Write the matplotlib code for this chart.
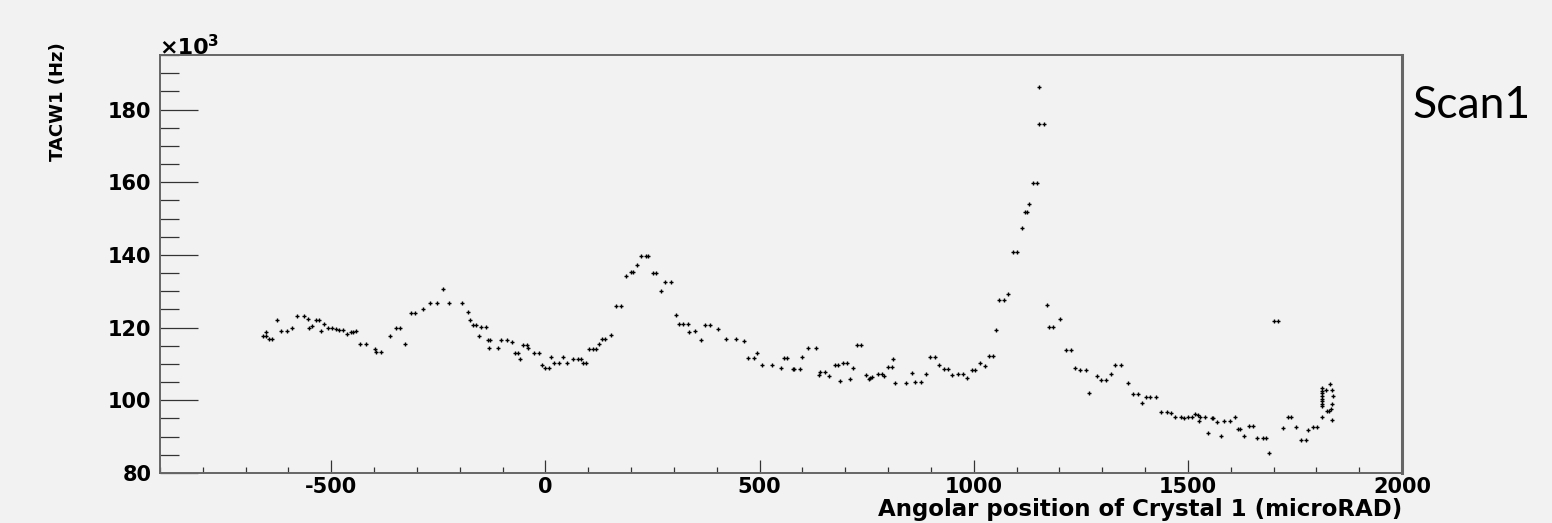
import matplotlib
matplotlib.use("Agg")
import matplotlib.pyplot as plt
from matplotlib.ticker import MultipleLocator
from matplotlib.font_manager import FontProperties

plt.rcParams["axes.unicode_minus"] = False

# ---- data: angular position (microRAD) and TACW1 rate (x10^3 Hz) ----
angle_a = [-660, -653, -652, -646, -639, -626, -617, -604, -591, -580, -564, -555,
           -551, -544, -535, -529, -523, -516, -508, -498, -490, -482, -473, -463,
           -455, -450, -443, -432, -418, -399, -395, -385, -362, -350, -339, -327,
           -315, -304, -287, -270, -253, -239, -225, -194, -182, -177, -169, -161,
           -156, -150, -139, -134, -130, -132, -111]
rate_a = [117.6, 117.6, 118.8, 117.0, 117.0, 122.0, 119.0, 119.0, 119.9, 123.1, 123.1, 122.4,
          119.9, 120.5, 122.0, 122.0, 119.2, 121.1, 119.9, 119.9, 119.6, 119.4, 119.4, 118.2,
          118.7, 118.7, 119.2, 115.4, 115.4, 114.2, 113.3, 113.3, 117.7, 119.8, 119.8, 115.6,
          123.9, 123.9, 125.2, 126.8, 126.8, 130.5, 126.8, 126.8, 124.2, 122.2, 120.8, 120.8,
          117.7, 120.3, 120.3, 116.5, 116.5, 114.4, 114.4]

angle_b = [-103, -89, -79, -72, -65, -60, -52, -44, -41, -27, -15, -7, 0, 8, 14, 19, 31,
           40, 50, 65, 76, 82, 88, 94, 102, 111, 119, 125, 131, 139, 153, 164, 176, 189,
           199, 205, 213, 222, 234, 239, 250, 259, 269, 279, 293, 304, 312, 322, 333, 336,
           349, 363, 372, 384, 404, 421, 446, 463, 474, 487, 494, 505, 530, 551, 557, 565,
           577, 581, 594, 600, 614, 631, 639, 642, 653, 662]
rate_b = [116.6, 116.6, 116.0, 113.1, 113.1, 111.3, 115.1, 115.1, 114.5, 112.9, 112.9, 109.7,
          108.9, 108.9, 112.0, 110.2, 110.2, 112.0, 110.2, 111.3, 111.3, 111.4, 110.3, 110.3,
          114.2, 114.2, 114.2, 115.6, 116.9, 116.9, 117.9, 126.0, 126.0, 134.2, 135.2, 135.2,
          137.3, 139.6, 139.6, 139.6, 134.9, 134.9, 130.0, 132.6, 132.6, 123.4, 120.9, 120.9,
          120.9, 118.8, 119.0, 116.7, 120.7, 120.7, 119.5, 116.9, 116.9, 116.2, 111.6, 111.6,
          112.9, 109.7, 109.7, 108.9, 111.6, 111.6, 108.5, 108.5, 108.7, 112.0, 114.4, 114.4,
          106.9, 107.8, 107.8, 106.6]

angle_c = [676, 682, 688, 694, 703, 711, 719, 728, 737, 748, 755, 758, 762, 777, 785, 790,
           801, 810, 812, 816, 841, 857, 863, 878, 888, 899, 909, 920, 931, 941, 949, 963,
           974, 985, 995, 1003, 1015, 1026, 1036, 1046, 1052, 1059, 1071, 1079]
rate_c = [109.7, 109.7, 105.3, 110.2, 110.2, 105.8, 108.8, 115.2, 115.2, 106.9, 105.8, 106.0,
          106.3, 107.1, 107.1, 106.7, 109.2, 109.2, 111.3, 104.8, 104.8, 107.6, 105.0, 105.0,
          107.3, 111.8, 111.8, 109.7, 108.6, 108.6, 106.9, 107.1, 107.1, 106.2, 108.2, 108.2,
          110.4, 109.5, 112.2, 112.2, 119.4, 127.7, 127.7, 129.2]

angle_d = [1091, 1102, 1113, 1120, 1124, 1130, 1138, 1147, 1153, 1153, 1164, 1170, 1176,
           1186, 1202, 1216, 1228, 1237, 1247, 1262, 1269, 1287, 1297, 1309, 1321, 1330,
           1343, 1360, 1371, 1383, 1392, 1403, 1412, 1425, 1438, 1451, 1460, 1469, 1484,
           1491, 1500, 1509, 1516, 1523, 1527, 1529, 1541]
rate_d = [140.7, 140.7, 147.3, 151.8, 151.8, 154.0, 159.7, 159.7, 186.3, 175.9, 175.9, 126.1,
          120.2, 120.2, 122.4, 113.9, 113.9, 108.8, 108.2, 108.2, 101.9, 106.7, 105.5, 105.5,
          107.1, 109.7, 109.7, 104.7, 101.6, 101.6, 99.3, 100.8, 100.8, 100.8, 96.8, 96.8,
          96.4, 95.5, 95.5, 95.1, 95.5, 95.5, 96.3, 96.0, 94.2, 95.3, 95.3]

angle_e = [1548, 1557, 1559, 1568, 1577, 1585, 1599, 1611, 1617, 1622, 1630, 1642, 1651,
           1661, 1675, 1682, 1690, 1702, 1711, 1721, 1733, 1741, 1753, 1765, 1775, 1781,
           1792, 1801, 1813, 1814, 1814, 1814, 1814, 1814, 1814, 1814, 1814, 1823, 1825,
           1830, 1833, 1837, 1839, 1837, 1835, 1836]
rate_e = [91.1, 95.1, 95.1, 94.0, 90.2, 94.2, 94.2, 95.5, 92.1, 92.1, 90.2, 92.9, 92.9,
          89.5, 89.5, 89.5, 85.5, 121.8, 121.8, 92.4, 95.3, 95.3, 92.6, 89.2, 89.2, 91.9,
          92.6, 92.6, 95.5, 103.3, 102.6, 101.9, 101.2, 100.4, 99.7, 99.0, 98.4, 102.8, 97.0,
          97.0, 104.4, 102.9, 101.2, 98.9, 97.5, 94.5]

angle = angle_a + angle_b + angle_c + angle_d + angle_e
rate = rate_a + rate_b + rate_c + rate_d + rate_e

x_label = "Angolar position of Crystal 1 (microRAD)"
y_label = "TACW1 (Hz)"
scan_label = "Scan1"

# ---- figure ----
W, H = 1552, 523
bg = "#f2f2f2"
fig = plt.figure(figsize=(W / 100, H / 100), dpi=100, facecolor=bg)
L, R, T, B = 160, 1402, 55, 473
ax = fig.add_axes([L / W, 1 - B / H, (R - L) / W, (B - T) / H], facecolor=bg)

ax.plot(angle, rate, linestyle="none", marker="+", markersize=3.4,
        markeredgewidth=1.0, color="black")

ax.set_xlim(-900, 2000)
ax.set_ylim(80, 195)
ax.xaxis.set_major_locator(MultipleLocator(500))
ax.xaxis.set_minor_locator(MultipleLocator(100))
ax.yaxis.set_major_locator(MultipleLocator(20))
ax.yaxis.set_minor_locator(MultipleLocator(5))

for s in ax.spines.values():
    s.set_color("#666666")
    s.set_linewidth(1.4)
ax.spines["right"].set_linewidth(2.2)

tick_fp = FontProperties(family="DejaVu Sans", weight="bold", size=15)
ax.tick_params(axis="x", which="major", direction="in", length=9.6, width=0.9,
               color="#333333", pad=3)
ax.tick_params(axis="x", which="minor", direction="in", length=4.5, width=0.9,
               color="#333333")
ax.tick_params(axis="y", which="major", direction="in", length=27.4, width=0.9,
               color="#333333", pad=6)
ax.tick_params(axis="y", which="minor", direction="in", length=13.7, width=0.9,
               color="#333333")
for lab in ax.get_xticklabels() + ax.get_yticklabels():
    lab.set_fontproperties(tick_fp)

# axis titles (ROOT style, aligned to axis ends)
fig.text(R / W, 1 - 516 / H, x_label, ha="right", va="baseline",
         family="DejaVu Sans", weight="bold", size=16.5)
fig.text(58 / W, 1 - 42 / H, y_label, ha="center", va="top", rotation=90,
         family="DejaVu Sans", weight="bold", size=13)
fig.text(159 / W, 1 - 54 / H, "\u00d710", ha="left", va="baseline",
         family="DejaVu Sans", weight="bold", size=16)
fig.text(208 / W, 1 - 46 / H, "3", ha="left", va="baseline",
         family="DejaVu Sans", weight="bold", size=11)
fig.text(1412 / W, 1 - 118 / H, scan_label, ha="left", va="baseline",
         family="Lato", size=32, color="black")

fig.savefig("out.png", dpi=100, facecolor=bg)
